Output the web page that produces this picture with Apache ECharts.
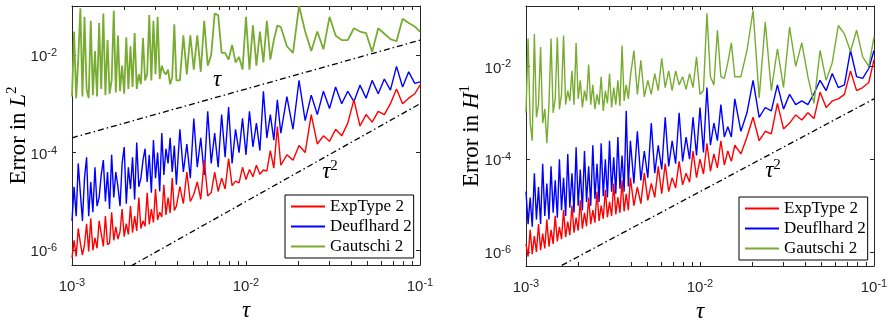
<!DOCTYPE html>
<html>
<head>
<meta charset="utf-8">
<script src="https://cdn.jsdelivr.net/npm/echarts@6/dist/echarts.min.js"></script>
<style>
  html, body { margin: 0; padding: 0; background: #fff; }
  #main { width: 892px; height: 322px; }
</style>
</head>
<body>
<div id="main"></div>
<script>
// step sizes (shared by both panels)
var tau = [
  1.000e-3,1.028e-3,1.057e-3,1.086e-3,1.117e-3,1.148e-3,1.180e-3,1.213e-3,1.247e-3,1.282e-3,
  1.318e-3,1.355e-3,1.393e-3,1.432e-3,1.472e-3,1.514e-3,1.556e-3,1.600e-3,1.644e-3,1.690e-3,
  1.738e-3,1.786e-3,1.837e-3,1.888e-3,1.941e-3,1.995e-3,2.051e-3,2.109e-3,2.168e-3,2.228e-3,
  2.291e-3,2.355e-3,2.421e-3,2.489e-3,2.559e-3,2.630e-3,2.704e-3,2.780e-3,2.858e-3,2.938e-3,
  3.020e-3,3.105e-3,3.192e-3,3.281e-3,3.373e-3,3.467e-3,3.565e-3,3.664e-3,3.767e-3,3.873e-3,
  3.981e-3,
  4.169e-3,4.365e-3,4.571e-3,4.786e-3,5.012e-3,5.248e-3,5.495e-3,5.754e-3,6.026e-3,6.310e-3,
  6.607e-3,6.918e-3,7.244e-3,7.586e-3,7.943e-3,8.318e-3,8.710e-3,9.120e-3,9.550e-3,1.000e-2,
  1.047e-2,1.096e-2,1.148e-2,1.202e-2,1.259e-2,1.318e-2,1.380e-2,1.445e-2,1.514e-2,1.585e-2,
  1.718e-2,1.862e-2,2.018e-2,2.188e-2,2.371e-2,2.570e-2,2.786e-2,3.020e-2,3.273e-2,3.548e-2,
  3.846e-2,4.169e-2,4.519e-2,4.898e-2,5.309e-2,5.754e-2,6.237e-2,6.761e-2,7.328e-2,7.943e-2,
  8.610e-2,9.333e-2,1.000e-1
];

// error in L2 (left)
var expL2 = [
  7e-7,1.6e-6,7.5e-7,2.8e-6,1.4e-6,8e-7,1.3e-6,3.5e-6,9.5e-7,4.5e-6,
  1.0e-6,1.8e-6,1.1e-6,4e-6,2.2e-6,1.2e-6,5e-6,1.3e-6,1.4e-6,6e-6,
  1.6e-6,3e-6,1.7e-6,2.4e-6,7e-6,1.9e-6,3.5e-6,2.1e-6,8e-6,2.3e-6,
  5e-6,2.5e-6,1.2e-5,2.8e-6,4e-6,3.1e-6,1.5e-5,3.4e-6,7e-6,3.7e-6,
  1.8e-5,4.2e-6,6e-6,4.8e-6,2.2e-5,5.3e-6,1.2e-5,5.8e-6,3e-5,6.5e-6,
  8e-6,
  2e-5,9e-6,4e-5,1.0e-5,1.4e-5,2.5e-5,1.1e-5,7e-5,1.3e-5,1.5e-5,
  4e-5,1.6e-5,3e-5,1.8e-5,7.5e-5,2.1e-5,2.6e-5,2.4e-5,5e-5,2.8e-5,
  4.5e-5,3.2e-5,5.5e-5,3.6e-5,4.4e-5,4.2e-5,1.1e-4,4.8e-5,3.4e-4,5.5e-5,
  9e-5,7e-5,1.4e-4,1.0e-4,6e-4,1.5e-4,2.2e-4,1.7e-4,3e-4,2.2e-4,
  4e-4,1.2e-3,3.5e-4,6e-4,4.2e-4,7e-4,6e-4,1.0e-3,2e-3,1.0e-3,
  1.3e-3,1.6e-3,2.4e-3
];
var deuL2 = [
  4e-6,2e-5,5e-6,6e-5,1.5e-5,4e-6,3e-5,8e-5,5e-6,2.5e-5,
  6e-6,5e-5,8e-6,1.2e-5,3.5e-5,7e-5,1e-5,4e-5,7e-6,9e-5,
  1.2e-5,4e-5,2e-5,8e-6,6e-5,1.3e-4,9e-6,5e-5,1.8e-5,8e-5,
  1.1e-5,1.6e-4,2e-5,3e-5,7e-5,1.2e-4,2.5e-5,9e-5,1.5e-5,1.8e-4,
  3e-5,1e-4,1.6e-5,2.5e-4,3.5e-5,1.2e-4,6e-5,2e-4,4e-5,1.4e-4,
  2.2e-5,
  3e-4,4e-5,1.5e-4,3e-5,5e-4,5e-5,2e-4,3.5e-5,7e-4,6e-5,
  2.5e-4,5e-5,6e-4,8e-5,8.5e-4,6e-5,3e-4,1e-4,5e-4,9e-5,
  7e-4,1.3e-4,4e-4,1.1e-4,1.8e-3,2e-4,6e-4,1.8e-4,1.2e-3,2.5e-4,
  1.4e-3,3e-4,3e-3,4.5e-4,1.5e-3,6e-4,1.8e-3,8e-4,2.2e-3,1e-3,
  1.8e-3,1.1e-3,2.4e-3,1.3e-3,3e-3,1.6e-3,3.2e-3,1.9e-3,5.8e-3,2.2e-3,
  4.5e-3,2.6e-3,2.8e-3
];
var gauL2 = [
  1.4e-3,3e-2,1.3e-3,8e-3,9e-2,1.4e-3,6e-2,2e-3,1.3e-3,5e-2,
  1.5e-3,1.2e-2,1.4e-3,4.5e-2,2e-3,7e-2,1.5e-3,2e-2,1.6e-3,3e-3,
  8e-2,1.7e-3,2.5e-2,1.8e-3,6e-3,1.6e-3,2.3e-2,2e-3,1.5e-2,2.2e-3,
  2.8e-2,2e-3,4e-3,2.5e-3,2.2e-2,3e-3,4e-3,6.5e-2,3e-3,5e-2,
  4e-3,6e-2,3.2e-3,6e-3,4.5e-3,4e-3,5e-3,2.5e-3,3.5e-3,4.2e-2,
  3e-3,
  3e-3,2.5e-2,4e-3,2.5e-2,5e-3,2.5e-2,4.5e-3,5e-2,6e-3,1e-2,
  7e-2,6.5e-2,1.1e-2,1.1e-2,8e-3,1.6e-2,7e-3,9e-3,5e-3,6e-2,
  5e-3,4e-2,6e-3,3e-2,7e-3,5e-2,8e-3,2e-2,4e-2,3.7e-2,
  1.5e-2,1.1e-2,1e-1,3e-2,1.2e-2,3e-2,1.3e-2,6e-2,2.5e-2,2e-2,
  2e-2,3.5e-2,3e-2,2.8e-2,1.15e-2,3.5e-2,2.7e-2,2.1e-2,1.9e-2,5.5e-2,
  4.5e-2,3.8e-2,3e-2
];

// error in H1 (right)
var expH1 = [
  1.5e-6,8e-7,3e-6,9e-7,2.2e-6,1e-6,4e-6,1.1e-6,2.5e-6,1.2e-6,
  5e-6,1.3e-6,3e-6,1.5e-6,6e-6,1.7e-6,3.5e-6,1.9e-6,8e-6,2.1e-6,
  4.5e-6,2.3e-6,1e-5,2.6e-6,5.5e-6,2.9e-6,1.3e-5,3.2e-6,7e-6,3.6e-6,
  1.5e-5,4e-6,8e-6,4.3e-6,2e-5,4.7e-6,1e-5,5.2e-6,2.2e-5,5.6e-6,
  1.2e-5,6e-6,3e-5,6.5e-6,1.5e-5,7e-6,3.5e-5,7.5e-6,1.8e-5,8e-6,
  4e-5,
  1e-5,2.5e-5,1.1e-5,5e-5,1.3e-5,3e-5,1.5e-5,7e-5,1.8e-5,8e-5,
  2e-5,4e-5,2.4e-5,9e-5,2.8e-5,5e-5,3.2e-5,1.5e-4,4e-5,1e-4,
  4.8e-5,2.2e-4,5.5e-5,1.3e-4,6.5e-5,2.5e-4,7.5e-5,1.5e-4,9e-5,2e-4,
  1.3e-4,3e-4,8e-4,2.5e-4,4e-4,3.5e-4,1.6e-3,4.5e-4,6e-4,9e-4,
  7e-4,1e-3,7.5e-4,2.8e-3,1.3e-3,1.8e-3,2e-3,2.5e-3,8e-3,3e-3,
  3.5e-3,4.5e-3,1.4e-2
];
var deuH1 = [
  2e-5,4e-6,1.5e-5,3.5e-6,5e-5,5e-6,2.5e-5,4e-6,8e-5,6e-6,
  3e-5,5e-6,7e-5,7e-6,3.5e-5,5.5e-6,1e-4,8e-6,4e-5,6e-6,
  1.3e-4,9e-6,5e-5,7e-6,1.8e-4,1e-5,6e-5,8e-6,1.5e-4,1.2e-5,
  7e-5,1e-5,2e-4,1.4e-5,8e-5,1.2e-5,2.2e-4,1.6e-5,1e-4,1.5e-5,
  2.5e-4,2e-5,1.1e-4,1.8e-5,3e-4,2.3e-5,1.2e-4,2e-5,1.1e-3,2.6e-5,
  2.5e-4,
  3e-5,4e-4,3.5e-5,1.5e-4,4e-5,6e-4,5e-5,2e-4,6e-5,8e-4,
  7e-5,2.5e-4,8e-5,1e-3,9e-5,3e-4,1e-4,8e-4,1.2e-4,1.3e-3,
  1.4e-4,3.5e-3,2e-4,6e-4,2.5e-4,1.5e-3,3e-4,5e-4,3e-4,2e-3,
  4e-4,1e-3,5e-3,8e-4,1.3e-3,1.1e-3,4e-3,1.2e-3,2.5e-3,1.5e-3,
  1.8e-3,1.5e-3,2.6e-3,5e-3,3e-3,7e-3,3.5e-3,4e-3,2.2e-2,6e-3,
  5.5e-3,9e-3,2.2e-2
];
var gauH1 = [
  1e-3,4e-2,6e-4,2.5e-4,5e-2,8e-4,1.5e-3,2.6e-2,6e-4,1.2e-3,
  2.2e-4,1.5e-3,4e-2,1e-3,2e-3,4.2e-2,1.2e-3,2.5e-3,4.6e-2,1.5e-3,
  3e-3,1.8e-3,8e-3,1.5e-3,3.2e-2,2e-3,5e-3,1.3e-3,3e-3,1.8e-3,
  1.1e-2,1.5e-3,4e-3,1.2e-3,2.5e-3,1.5e-3,6e-3,1.1e-3,3e-3,1.6e-3,
  7e-3,1.3e-3,3.5e-3,1.5e-3,5e-3,1.4e-3,2.8e-2,1.8e-3,4e-3,2e-3,
  6e-3,
  2.2e-2,2.5e-3,1.35e-2,2.2e-3,5e-3,2.5e-3,7e-3,3e-3,1.5e-2,3.5e-3,
  8e-3,3e-3,8e-3,4e-3,6e-3,3.2e-3,7e-3,3.5e-3,1.6e-2,2.5e-3,
  3e-3,1.4e-1,6e-3,4e-3,6e-2,6e-3,5.5e-3,1.2e-2,3.2e-2,6e-3,
  6e-3,2.2e-2,1.6e-1,2.1e-3,9e-2,3e-3,2.4e-2,3.5e-3,7e-2,1e-2,
  3.2e-2,6e-3,1.6e-3,2.2e-2,5e-3,1.2e-2,7.6e-2,5e-2,2.1e-2,6e-2,
  1.6e-2,1e-2,4.3e-2
];

// reference slopes
var refTau = [1e-3, 1e-1];
var refOrder1 = [2e-4, 2e-2];    // 0.2*tau
var refOrder2L2 = [1e-7, 1e-3];  // 0.1*tau^2
var refOrder2H1 = [2e-7, 2e-3];  // 0.2*tau^2

var xTickVals = [1e-3,2e-3,3e-3,4e-3,5e-3,6e-3,7e-3,8e-3,9e-3,1e-2,2e-2,3e-2,4e-2,5e-2,6e-2,7e-2,8e-2,9e-2,1e-1];
var xLabelVals = [1e-3, 1e-2, 1e-1];
var yTickVals = [1e-6, 1e-4, 1e-2];
var legendNames = ['ExpType 2', 'Deuflhard 2', 'Gautschi 2'];

var axisColor = '#262626';
var serif = '"Liberation Serif", "Times New Roman", serif';

function pair(xs, ys) {
  return xs.map(function (x, i) { return [x, ys[i]]; });
}
function powLabel(v) {
  return '{b|10}{s|' + Math.round(Math.log10(v)) + '}';
}
var tickRich = {
  b: { fontFamily: 'Liberation Sans', fontSize: 15, color: axisColor },
  s: { fontFamily: 'Liberation Sans', fontSize: 11, color: axisColor, verticalAlign: 'bottom', padding: [0, 0, 8, 0] }
};

function xAxisFor(grid, pos) {
  var bottom = pos === 'bottom';
  return {
    type: 'log', gridIndex: grid, position: pos, min: 1e-3, max: 1e-1,
    axisLine: { show: true, onZero: false, lineStyle: { color: axisColor, width: 1 } },
    axisTick: { show: true, inside: true, length: 4, customValues: xTickVals, lineStyle: { color: axisColor } },
    axisLabel: { show: bottom, customValues: xLabelVals, formatter: powLabel, rich: tickRich,
      fontFamily: 'Liberation Sans', fontSize: 15, color: axisColor, margin: 12 },
    splitLine: { show: false },
    name: bottom ? 'τ' : '', nameLocation: 'middle', nameGap: 34, nameMoveOverlap: false,
    nameTextStyle: { fontFamily: serif, fontStyle: 'italic', fontSize: 23, color: '#000' }
  };
}
function yAxisFor(grid, pos, maxV, name, gap) {
  var left = pos === 'left';
  return {
    type: 'log', gridIndex: grid, position: pos, min: 5e-7, max: maxV,
    axisLine: { show: true, onZero: false, lineStyle: { color: axisColor, width: 1 } },
    axisTick: { show: true, inside: true, length: 4, customValues: yTickVals, lineStyle: { color: axisColor } },
    axisLabel: { show: left, customValues: yTickVals, formatter: powLabel, rich: tickRich,
      fontFamily: 'Liberation Sans', fontSize: 15, color: axisColor, margin: 15, padding: [4, 0, 0, 0] },
    splitLine: { show: false },
    name: left ? name : '', nameLocation: 'middle', nameGap: gap, nameRotate: 90, nameMoveOverlap: false,
    nameTextStyle: {
      fontFamily: serif, fontSize: 23, color: '#000',
      rich: {
        i: { fontFamily: serif, fontStyle: 'italic', fontSize: 23, color: '#000' },
        s: { fontFamily: serif, fontSize: 15, color: '#000', verticalAlign: 'bottom', padding: [0, 0, 12, 0] }
      }
    }
  };
}
function lineSeries(name, xi, data, color, width) {
  return {
    name: name, type: 'line', xAxisIndex: xi, yAxisIndex: xi, data: data,
    symbol: 'none', lineStyle: { color: color, width: width }, itemStyle: { color: color }
  };
}
function refSeries(xi, ys) {
  return {
    type: 'line', xAxisIndex: xi, yAxisIndex: xi, data: pair(refTau, ys), symbol: 'none', silent: true,
    lineStyle: { color: '#000', width: 1.3, type: [6, 3, 1.5, 3] }
  };
}
function legendAt(left, top) {
  return {
    left: left, top: top, orient: 'vertical', data: legendNames, selectedMode: false,
    itemWidth: 34, itemHeight: 14, itemGap: 3, padding: [3, 2, 3, 5],
    itemStyle: { opacity: 0 },
    borderColor: '#000', borderWidth: 1, backgroundColor: '#fff',
    textStyle: { fontFamily: serif, fontSize: 17, lineHeight: 17, color: '#000' }
  };
}

var chart = echarts.init(document.getElementById('main'));
var option = {
  animation: false,
  backgroundColor: '#fff',
  grid: [
    { left: 72, top: 6, width: 348, height: 259, outerBoundsMode: 'none', containLabel: false },
    { left: 526, top: 6, width: 348, height: 260, outerBoundsMode: 'none', containLabel: false }
  ],
  xAxis: [
    xAxisFor(0, 'bottom'), xAxisFor(1, 'bottom'),
    xAxisFor(0, 'top'), xAxisFor(1, 'top')
  ],
  yAxis: [
    yAxisFor(0, 'left', 0.1, 'Error in {i|L}{s|2}', 40),
    yAxisFor(1, 'left', 0.2, 'Error in {i|H}{s|1}', 41),
    yAxisFor(0, 'right', 0.1, ''), yAxisFor(1, 'right', 0.2, '')
  ],
  legend: [legendAt(285, 195), legendAt(739, 197)],
  series: [
    refSeries(0, refOrder1),
    refSeries(0, refOrder2L2),
    refSeries(1, refOrder2H1),
    lineSeries('Deuflhard 2', 0, pair(tau, deuL2), '#0000FF', 1.4),
    lineSeries('ExpType 2', 0, pair(tau, expL2), '#FF0000', 1.4),
    lineSeries('Gautschi 2', 0, pair(tau, gauL2), '#77AC30', 1.8),
    lineSeries('Deuflhard 2', 1, pair(tau, deuH1), '#0000FF', 1.4),
    lineSeries('ExpType 2', 1, pair(tau, expH1), '#FF0000', 1.4),
    lineSeries('Gautschi 2', 1, pair(tau, gauH1), '#77AC30', 1.4)
  ],
  graphic: [
    { type: 'text', x: 217, y: 80, style: { text: 'τ', font: 'italic 23px ' + serif, fill: '#000', textAlign: 'center', textVerticalAlign: 'middle' } },
    { type: 'text', x: 330, y: 172, style: {
      text: '{i|τ}{s|2}', textAlign: 'center', textVerticalAlign: 'middle',
      rich: { i: { font: 'italic 23px ' + serif, fill: '#000' }, s: { font: '15px ' + serif, fill: '#000', verticalAlign: 'bottom', padding: [0, 0, 12, 0] } } } },
    { type: 'text', x: 773, y: 171, style: {
      text: '{i|τ}{s|2}', textAlign: 'center', textVerticalAlign: 'middle',
      rich: { i: { font: 'italic 23px ' + serif, fill: '#000' }, s: { font: '15px ' + serif, fill: '#000', verticalAlign: 'bottom', padding: [0, 0, 12, 0] } } } }
  ]
};
chart.setOption(option);
</script>
</body>
</html>
